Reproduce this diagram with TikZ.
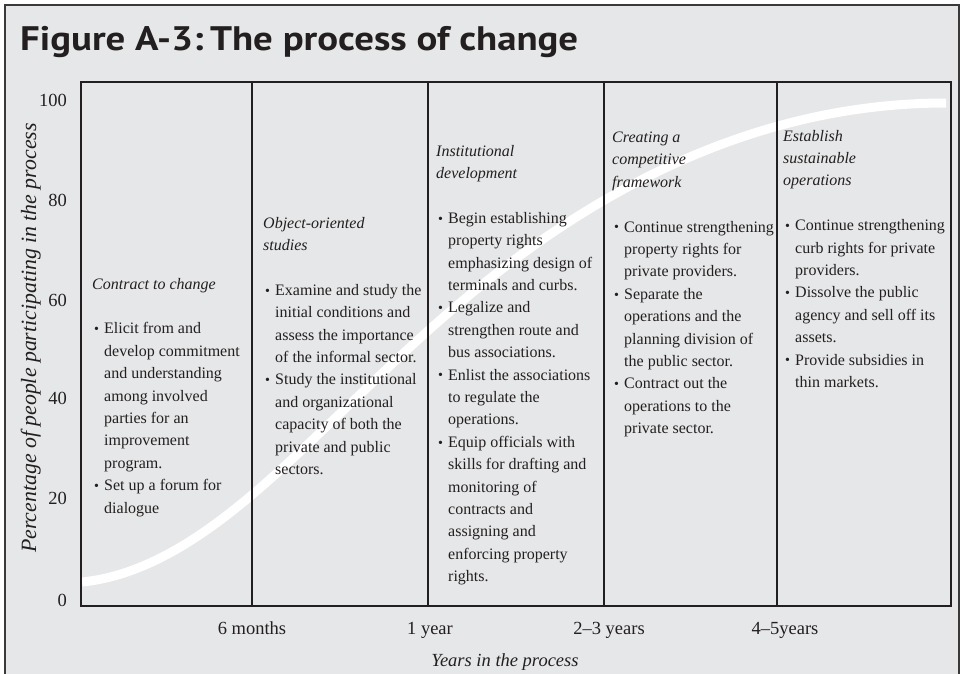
\documentclass[tikz,border=0pt]{standalone}
\usepackage{fontspec}
\usepackage{graphicx}
\setmainfont{Liberation Serif}
\newfontfamily\titlefont{PT Sans}
\definecolor{bg}{HTML}{E6E7E8}
\definecolor{ink}{HTML}{231F20}
\definecolor{framec}{HTML}{3A3A3A}
\newcommand\dotb{\raisebox{0.2pt}{\fontsize{14}{14}\selectfont\textbullet}}
\newcommand\bitem{\par\hangindent=12pt\hangafter=1\noindent\hspace*{2pt}\makebox[10pt][l]{\dotb}}
\newcommand\colsetup{\fontsize{16}{22.4}\selectfont\parindent=0pt\color{ink}}
\tikzset{
  ylab/.style={anchor=east, inner sep=0pt, text=ink, font=\fontsize{18.5}{20}\selectfont},
  xlab/.style={anchor=base, inner sep=0pt, text=ink, font=\fontsize{18.5}{20}\selectfont},
  coltext/.style={anchor=base west, inner sep=0pt, text=ink},
  gridline/.style={draw=ink, line width=1.3pt},
  sline/.style={white, line width=9pt},
}
\begin{document}
\begin{tikzpicture}[x=1pt,y=-1pt]
\useasboundingbox (0,0) rectangle (962,673);
\fill[white] (0,0) rectangle (962,673);
\draw[framec, line width=2.5pt, fill=bg] (5,690) -- (5,5) -- (959,5) -- (959,690);
% title
\node[anchor=base west, inner sep=0pt, text=ink] (title) at (20,50)
  {\resizebox{558pt}{\height}{\titlefont\bfseries\fontsize{34}{40}\selectfont Figure A-3:\,The process of change}};
% S-curve
\coordinate (cA) at (82,582);
\coordinate (cB) at (350,404);
\coordinate (cC) at (946,103);
\draw[sline] (cA) .. controls (182,572) and (270,480) .. (cB)
                  .. controls (440,319) and (646,103) .. (cC);
% plot box
\draw[gridline] (81,82) rectangle (951,606);
\foreach \xx/\nm in {252/d1,428/d2,604/d3,777/d4}{
  \coordinate (\nm t) at (\xx,82);
  \coordinate (\nm b) at (\xx,606);
  \draw[gridline] (\nm t) -- (\nm b);
}
% y labels
\node[ylab] (y100) at (67,100) {100};
\node[ylab] (y80) at (67,200) {80};
\node[ylab] (y60) at (67,300) {60};
\node[ylab] (y40) at (67,398) {40};
\node[ylab] (y20) at (67,498) {20};
\node[ylab] (y0) at (67,600) {0};
% x labels
\node[xlab] (x1) at (252,634) {6 months};
\node[xlab] (x2) at (430,634) {1 year};
\node[xlab] (x3) at (609,634) {2--3 years};
\node[xlab] (x4) at (785,634) {4--5years};
% axis titles
\node[anchor=base, inner sep=0pt, text=ink, font=\fontsize{18.5}{20}\selectfont\itshape] (xt) at (505,666) {Years in the process};
\node[anchor=base, inner sep=0pt, text=ink, rotate=90, font=\fontsize{21.8}{22}\selectfont\itshape] (yt) at (36,338) {Percentage of people participating in the process};
% column 1
\node[coltext] (c1) at (92,278) {\begin{minipage}[t]{165pt}\colsetup
\textit{Contract to change}\par\vspace{22.4pt}
\bitem Elicit from and\\ develop commitment\\ and understanding\\ among involved\\ parties for an\\ improvement\\ program.
\bitem Set up a forum for\\ dialogue
\end{minipage}};
% column 2
\node[coltext] (c2) at (263,217) {\begin{minipage}[t]{165pt}\colsetup
\textit{Object-oriented\\ studies}\par\vspace{22.4pt}
\bitem Examine and study the\\ initial conditions and\\ assess the importance\\ of the informal sector.
\bitem Study the institutional\\ and organizational\\ capacity of both the\\ private and public\\ sectors.
\end{minipage}};
% column 3
\node[coltext] (c3) at (436,145) {\begin{minipage}[t]{165pt}\colsetup
\textit{Institutional\\ development}\par\vspace{22.4pt}
\bitem Begin establishing\\ property rights\\ emphasizing design of\\ terminals and curbs.
\bitem Legalize and\\ strengthen route and\\ bus associations.
\bitem Enlist the associations\\ to regulate the\\ operations.
\bitem Equip officials with\\ skills for drafting and\\ monitoring of\\ contracts and\\ assigning and\\ enforcing property\\ rights.
\end{minipage}};
% column 4
\node[coltext] (c4) at (612,132) {\begin{minipage}[t]{165pt}\colsetup
\textit{Creating a\\ competitive\\ framework}\par\vspace{22.4pt}
\bitem Continue strengthening\\ property rights for\\ private providers.
\bitem Separate the\\ operations and the\\ planning division of\\ the public sector.
\bitem Contract out the\\ operations to the\\ private sector.
\end{minipage}};
% column 5
\node[coltext] (c5) at (783,130) {\begin{minipage}[t]{165pt}\colsetup
\textit{Establish\\ sustainable\\ operations}\par\vspace{22.4pt}
\bitem Continue strengthening\\ curb rights for private\\ providers.
\bitem Dissolve the public\\ agency and sell off its\\ assets.
\bitem Provide subsidies in\\ thin markets.
\end{minipage}};
\end{tikzpicture}
\end{document}
